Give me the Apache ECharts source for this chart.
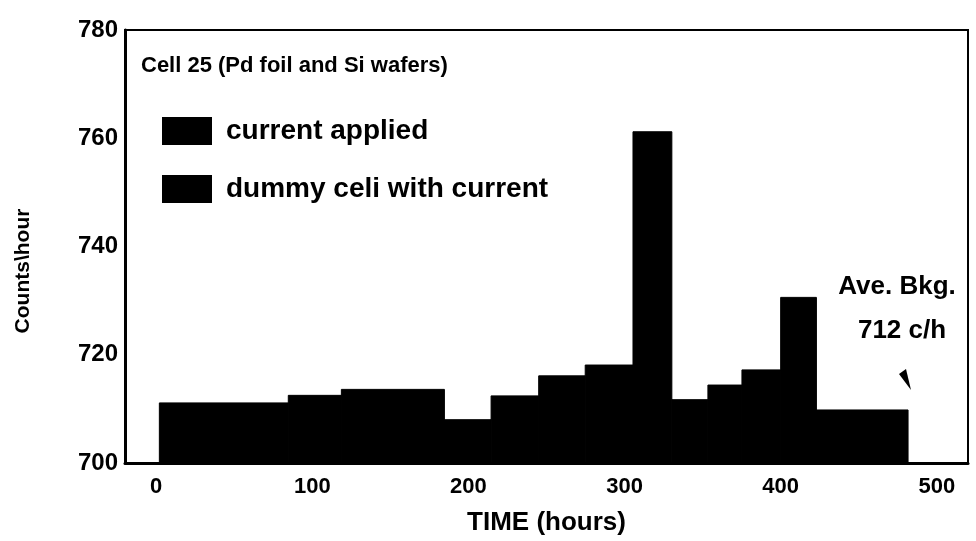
<!DOCTYPE html>
<html>
<head>
<meta charset="utf-8">
<script src="https://cdn.jsdelivr.net/npm/echarts@6/dist/echarts.min.js"></script>
<style>html,body{margin:0;padding:0;background:#fff}#c{width:976px;height:541px}</style>
</head>
<body>
<div id="c"></div>
<script>
// Bin edges (hours) and counts/hour
const binStart = [2, 84.6, 118.6, 184.6, 214.5, 245, 274.8, 305.4, 330.3, 353.4, 375.2, 400, 422.9];
const binEnd   = [84.6, 118.6, 184.6, 214.5, 245, 274.8, 305.4, 330.3, 353.4, 375.2, 400, 422.9, 481.6];
const counts   = [711.1, 712.5, 713.6, 708.0, 712.4, 716.1, 718.1, 761.2, 711.7, 714.4, 717.2, 730.6, 709.8];
const xTicks = [0, 100, 200, 300, 400, 500];
const yTicks = [700, 720, 740, 760, 780];
const seriesNames = ['current applied', 'dummy celi with current'];
const titleText = 'Cell 25 (Pd foil and Si wafers)';
const noteLines = ['Ave. Bkg.', '712 c/h'];

const FONT = 'Liberation Sans';
const data = binStart.map((s, i) => [s, binEnd[i], counts[i]]);

const chart = echarts.init(document.getElementById('c'));
chart.setOption({
  animation: false,
  backgroundColor: '#fff',
  title: {
    text: titleText, left: 136, top: 50,
    textStyle: { fontFamily: FONT, fontSize: 22, fontWeight: 'bold', color: '#000' }
  },
  legend: {
    orient: 'vertical', left: 157, top: 112,
    itemWidth: 50, itemHeight: 28, itemGap: 30,
    icon: 'rect',
    data: seriesNames,
    textStyle: { fontFamily: FONT, fontSize: 28, fontWeight: 'bold', color: '#000', padding: [0, 0, 0, 9] }
  },
  grid: {
    left: 125, right: 8, top: 30, bottom: 78,
    show: true, borderColor: '#000', borderWidth: 2
  },
  xAxis: {
    type: 'value', min: -20, max: 520, interval: 20,
    name: 'TIME (hours)', nameLocation: 'middle', nameGap: 47,
    nameTextStyle: { fontFamily: FONT, fontSize: 26, fontWeight: 'bold', color: '#000' },
    axisLine: { show: true, onZero: false, lineStyle: { color: '#000', width: 3 } },
    axisTick: { show: false },
    splitLine: { show: false },
    axisLabel: {
      margin: 13, fontFamily: FONT, fontSize: 22, fontWeight: 'bold', color: '#000',
      formatter: v => xTicks.indexOf(v) >= 0 ? String(v) : ''
    }
  },
  yAxis: {
    type: 'value', min: yTicks[0], max: yTicks[yTicks.length - 1], interval: 20,
    axisLine: { show: true, onZero: false, lineStyle: { color: '#000', width: 3 } },
    axisTick: { show: false },
    splitLine: { show: false },
    axisLabel: { margin: 7, fontFamily: FONT, fontSize: 24, fontWeight: 'bold', color: '#000' }
  },
  graphic: [
    { type: 'text', x: 23, y: 271, rotation: Math.PI / 2,
      style: { text: 'Counts\\hour', fontFamily: FONT, fontSize: 21, fontWeight: 'bold', fill: '#000', align: 'center', verticalAlign: 'middle' } },
    { type: 'text', x: 897, y: 287,
      style: { text: noteLines[0], fontFamily: FONT, fontSize: 26, fontWeight: 'bold', fill: '#000', align: 'center', verticalAlign: 'middle' } },
    { type: 'text', x: 902, y: 331,
      style: { text: noteLines[1], fontFamily: FONT, fontSize: 26, fontWeight: 'bold', fill: '#000', align: 'center', verticalAlign: 'middle' } },
    { type: 'polygon', shape: { points: [[899, 374], [906, 369], [911, 390]] }, style: { fill: '#000' } }
  ],
  series: [
    {
      name: seriesNames[0], type: 'custom', data: data,
      itemStyle: { color: '#000' },
      encode: { x: [0, 1], y: 2 },
      renderItem: function (params, api) {
        const p0 = api.coord([api.value(0), api.value(2)]);
        const p1 = api.coord([api.value(1), yTicks[0]]);
        return { type: 'rect', shape: { x: p0[0], y: p0[1], width: p1[0] - p0[0], height: p1[1] - p0[1] },
                 style: { fill: '#000', stroke: '#000', lineWidth: 1 } };
      }
    },
    {
      name: seriesNames[1], type: 'custom', data: [],
      itemStyle: { color: '#000' },
      renderItem: function () { return null; }
    }
  ]
});
</script>
</body>
</html>
